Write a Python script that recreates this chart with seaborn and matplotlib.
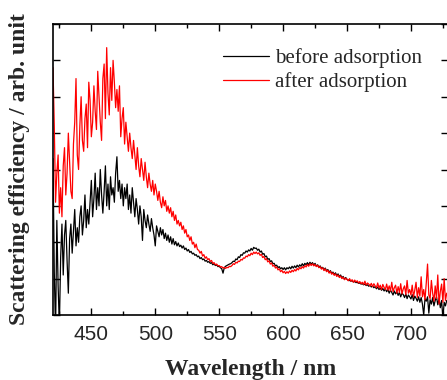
import numpy as np
import pandas as pd
import seaborn as sns
import matplotlib.pyplot as plt
from matplotlib.ticker import MultipleLocator

# =========================
# DATA (arbitrary units, 1 nm steps)
# =========================

wavelength = np.arange(420, 729, 1)

before = [
    4.3, 1.2, -0.5, 2.6, 0.8, -0.3, 1.6, 2.5, 1.1, 2.2,
    2.6, 1.5, 0.6, 2.1, 2.5, 1.7, 2.3, 2.9, 1.9, 2.4,
    2.0, 2.7, 3.0, 2.2, 2.6, 3.3, 2.4, 2.9, 2.5, 3.1,
    3.7, 2.7, 3.2, 3.9, 2.9, 3.5, 3.0, 4.0, 3.3, 2.8,
    3.4, 4.1, 3.0, 3.6, 2.9, 3.8, 3.3, 3.5, 3.1, 3.9,
    4.35, 3.4, 3.7, 3.2, 3.6, 3.0, 3.5, 3.2, 3.6, 2.9,
    3.3, 2.8, 3.5, 3.1, 2.7, 3.2, 2.9, 2.5, 3.0, 2.7,
    2.05, 2.9, 2.6, 2.4, 2.75, 2.5, 2.3, 2.65, 2.4, 2.2,
    1.9, 2.45, 2.3, 2.15, 2.4, 2.2, 2.35, 2.1, 2.25, 2.05,
    2.2, 2.0, 2.15, 1.95, 2.1, 1.93, 2.02, 1.9, 1.98, 1.88,
    1.92, 1.84, 1.9, 1.8, 1.84, 1.76, 1.8, 1.72, 1.75, 1.68,
    1.7, 1.64, 1.66, 1.6, 1.62, 1.55, 1.58, 1.52, 1.54, 1.48,
    1.5, 1.45, 1.47, 1.42, 1.44, 1.38, 1.41, 1.36, 1.38, 1.33,
    1.34, 1.3, 1.27, 1.15, 1.3, 1.34, 1.36, 1.38, 1.4, 1.41,
    1.44, 1.48, 1.47, 1.54, 1.52, 1.6, 1.58, 1.66, 1.64, 1.71,
    1.7, 1.76, 1.73, 1.79, 1.76, 1.83, 1.78, 1.86, 1.83, 1.84,
    1.78, 1.81, 1.73, 1.76, 1.67, 1.69, 1.6, 1.62, 1.53, 1.55,
    1.47, 1.49, 1.41, 1.42, 1.35, 1.37, 1.3, 1.33, 1.27, 1.3,
    1.25, 1.3, 1.24, 1.3, 1.27, 1.32, 1.27, 1.34, 1.29, 1.35,
    1.3, 1.37, 1.32, 1.38, 1.34, 1.41, 1.35, 1.42, 1.38, 1.44,
    1.38, 1.45, 1.4, 1.44, 1.37, 1.42, 1.34, 1.38, 1.31, 1.35,
    1.28, 1.31, 1.24, 1.29, 1.21, 1.25, 1.17, 1.22, 1.14, 1.18,
    1.11, 1.16, 1.08, 1.13, 1.05, 1.1, 1.02, 1.06, 0.98, 1.03,
    0.98, 0.96, 0.95, 0.93, 0.94, 0.91, 0.92, 0.89, 0.9, 0.87,
    0.88, 0.85, 0.86, 0.83, 0.85, 0.81, 0.83, 0.79, 0.82, 0.77,
    0.8, 0.75, 0.78, 0.72, 0.77, 0.7, 0.74, 0.68, 0.73, 0.66,
    0.72, 0.64, 0.7, 0.6, 0.68, 0.62, 0.55, 0.66, 0.58, 0.64,
    0.54, 0.62, 0.5, 0.6, 0.56, 0.48, 0.58, 0.45, 0.55, 0.5,
    0.44, 0.56, 0.4, 0.52, 0.46, 0.38, 0.5, 0.35, 0.48, 0.3,
    0.0, 0.45, 0.38, 0.5, 0.05, 0.42, 0.3, 0.48, 0.25, 0.4,
    0.5, 0.28, 0.45, 0.2, 0.4, -0.1, 0.35, 0.25, 0.4,
]

after = [
    6.8, 5.2, 3.1, 3.9, 4.4, 2.8, 3.5, 2.7, 4.1, 4.6,
    3.3, 3.9, 5.0, 4.2, 3.4, 3.2, 4.7, 5.3, 6.5, 4.4,
    4.0, 5.2, 6.0, 4.8, 4.5, 5.4, 5.8, 4.6, 6.4, 5.9,
    4.9, 5.3, 6.3, 5.6, 5.1, 6.7, 6.0, 5.3, 4.8, 6.5,
    6.9, 5.4, 7.35, 6.1, 5.5, 6.8, 5.9, 7.0, 6.4, 5.7,
    6.2, 5.6, 6.3, 4.9, 5.4, 5.7, 4.7, 5.3, 4.9, 4.5,
    5.0, 4.6, 4.3, 4.8, 4.4, 4.0, 4.6, 4.1, 3.8, 4.3,
    4.0, 3.7, 4.2, 3.8, 3.5, 3.9, 3.6, 3.4, 3.7, 3.3,
    3.6, 3.4, 3.15, 3.4, 3.1, 2.95, 3.25, 3.0, 3.15, 2.85,
    3.0, 2.8, 2.95, 2.7, 2.85, 2.6, 2.75, 2.5, 2.6, 2.45,
    2.55, 2.35, 2.45, 2.25, 2.35, 2.15, 2.2, 2.05, 2.15, 1.95,
    2.0, 1.85, 1.95, 1.8, 1.78, 1.7, 1.75, 1.62, 1.66, 1.56,
    1.6, 1.52, 1.55, 1.47, 1.5, 1.42, 1.44, 1.38, 1.4, 1.35,
    1.36, 1.32, 1.33, 1.29, 1.31, 1.28, 1.31, 1.3, 1.34, 1.33,
    1.36, 1.41, 1.39, 1.45, 1.43, 1.48, 1.47, 1.53, 1.51, 1.57,
    1.56, 1.62, 1.6, 1.66, 1.63, 1.7, 1.66, 1.73, 1.69, 1.73,
    1.68, 1.71, 1.64, 1.67, 1.58, 1.61, 1.52, 1.55, 1.46, 1.49,
    1.4, 1.43, 1.34, 1.37, 1.29, 1.32, 1.24, 1.27, 1.19, 1.23,
    1.16, 1.2, 1.14, 1.19, 1.15, 1.21, 1.17, 1.23, 1.19, 1.25,
    1.21, 1.28, 1.24, 1.31, 1.27, 1.33, 1.29, 1.36, 1.32, 1.39,
    1.34, 1.41, 1.36, 1.41, 1.35, 1.39, 1.33, 1.37, 1.3, 1.33,
    1.26, 1.3, 1.22, 1.27, 1.19, 1.23, 1.15, 1.2, 1.12, 1.16,
    1.09, 1.13, 1.06, 1.1, 1.03, 1.07, 1.0, 1.04, 0.97, 1.01,
    0.98, 0.94, 1.0, 0.93, 0.97, 0.9, 0.96, 0.91, 0.94, 0.88,
    0.92, 0.86, 0.9, 0.84, 0.93, 0.82, 0.88, 0.85, 0.8, 0.87,
    0.78, 0.86, 0.8, 0.75, 0.88, 0.74, 0.82, 0.7, 0.84, 0.76,
    0.7, 0.85, 0.68, 0.8, 0.66, 0.9, 0.64, 0.75, 0.82, 0.6,
    0.78, 0.62, 0.86, 0.58, 0.72, 0.8, 0.56, 0.95, 0.6, 0.7,
    0.55, 0.82, 0.5, 0.68, 0.9, 0.48, 0.75, 0.52, 1.05, 0.5,
    0.7, 0.42, 0.88, 1.4, 0.55, 0.45, 0.95, 0.6, 0.38, 0.8,
    0.45, 1.1, 0.3, 0.65, 0.85, 0.35, 1.0, 0.4, 0.6,
]

labels = ['before adsorption', 'after adsorption']
colors = ['black', 'red']

# =========================
# LONG TABLE
# =========================

dados = pd.concat([
    pd.DataFrame({'wl': wavelength, 'val': before, 'amostra': labels[0]}),
    pd.DataFrame({'wl': wavelength, 'val': after, 'amostra': labels[1]}),
], ignore_index=True)

# =========================
# PLOT
# =========================

sns.set_style('ticks')
plt.rcParams['font.family'] = ['Liberation Serif', 'DejaVu Serif']

fig = plt.figure(figsize=(4.47, 3.8), dpi=100)
ax = fig.add_axes([53 / 447, 65 / 380, 395 / 447, 291 / 380])

sns.lineplot(
    data=dados, x='wl', y='val', hue='amostra',
    hue_order=labels, palette=colors,
    estimator=None, linewidth=0.9, ax=ax
)

ax.set_xlim(420, 729)
ax.set_ylim(0, 8)
ax.xaxis.set_major_locator(MultipleLocator(50))
ax.xaxis.set_minor_locator(MultipleLocator(25))
ax.yaxis.set_major_locator(MultipleLocator(1))
ax.set_yticklabels([])

ax.tick_params(axis='both', which='both', direction='in',
               top=True, right=True, color='black', width=1.0)
ax.tick_params(axis='both', which='major', length=5)
ax.tick_params(axis='both', which='minor', length=3)
ax.tick_params(axis='x', labelsize=15, pad=7)
for lab in ax.get_xticklabels():
    lab.set_family('Liberation Sans')

for s in ax.spines.values():
    s.set_color('black')
    s.set_linewidth(1.2)

ax.set_xlabel('Wavelength / nm', fontsize=17, fontweight='bold', labelpad=11)
ax.set_ylabel('Scattering efficiency / arb. unit', fontsize=17,
              fontweight='bold', labelpad=13)

ax.legend(
    loc='upper left', bbox_to_anchor=(223 / 447, 1 - 48 / 380),
    bbox_transform=fig.transFigure, frameon=False, fontsize=15,
    handlelength=2.2, handletextpad=0.3, labelspacing=0.2,
    borderpad=0, borderaxespad=0
)

plt.savefig('out.png', dpi=100)
